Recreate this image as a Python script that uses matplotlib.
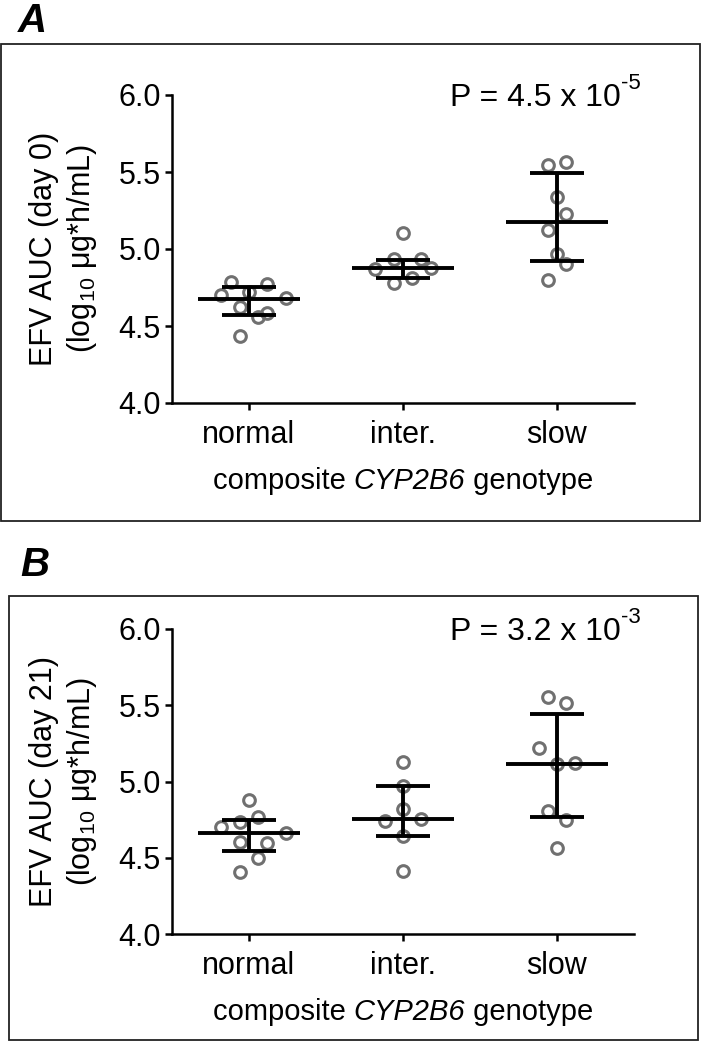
import matplotlib
matplotlib.use('Agg')
import matplotlib.pyplot as plt
from matplotlib.patches import Rectangle

plt.rcParams['font.family'] = ['Liberation Sans', 'DejaVu Sans']
plt.rcParams['mathtext.fontset'] = 'custom'
plt.rcParams['mathtext.rm'] = 'Liberation Sans'
plt.rcParams['mathtext.it'] = 'Liberation Sans:italic'
plt.rcParams['mathtext.bf'] = 'Liberation Sans:bold'

categories = ['normal', 'inter.', 'slow']
y_ticks = [4.0, 4.5, 5.0, 5.5, 6.0]
xlabel_parts = [('composite ', 'normal'), ('CYP2B6', 'italic'),
                (' genotype', 'normal')]

# Panel A (day 0)
a_normal = [4.788, 4.773, 4.701, 4.723, 4.680, 4.621, 4.556, 4.583, 4.435]
a_inter = [5.102, 4.933, 4.933, 4.868, 4.875, 4.781, 4.810]
a_slow = [5.545, 5.567, 5.336, 5.227, 5.123, 4.968, 4.903, 4.799]
a_center = [4.675, 4.879, 5.177]
a_lower = [4.573, 4.810, 4.922]
a_upper = [4.751, 4.929, 5.492]
a_slots = [[-2, 2, -3, 0, 4, -1, 1, 2, -1],
           [0, -1, 2, -3, 3, -1, 1],
           [-1, 1, 0, 1, -1, 0, 1, -1]]
a_pbase, a_pexp = 'P = 4.5 x 10', '-5'
a_ylabel = 'EFV AUC (day 0)\n(log$_{10}$ μg*h/mL)'

# Panel B (day 21)
b_normal = [4.879, 4.736, 4.765, 4.704, 4.660, 4.605, 4.595, 4.496, 4.409]
b_inter = [5.130, 4.970, 4.820, 4.741, 4.754, 4.645, 4.415]
b_slow = [5.556, 5.517, 5.222, 5.117, 5.123, 4.809, 4.748, 4.566]
b_center = [4.664, 4.754, 5.117]
b_lower = [4.544, 4.645, 4.765]
b_upper = [4.748, 4.970, 5.441]
b_slots = [[0, -1, 1, -3, 4, -1, 2, 1, -1],
           [0, 0, 0, -2, 2, 0, 0],
           [-1, 1, -2, 0, 2, -1, 1, 0]]
b_pbase, b_pexp = 'P = 3.2 x 10', '-3'
b_ylabel = 'EFV AUC (day 21)\n(log$_{10}$ μg*h/mL)'

W, H = 702, 1050
fig = plt.figure(figsize=(W / 100, H / 100), dpi=100)
renderer = fig.canvas.get_renderer()


def fx(x):
    return x / W


def fy(y):
    return 1 - y / H


def panel(top_px, bottom_px, groups, slots, center, lower, upper, pbase, pexp,
          ylabel):
    left_px, right_px = 172, 634
    ax = fig.add_axes([fx(left_px), fy(bottom_px), fx(right_px) - fx(left_px),
                       fy(top_px) - fy(bottom_px)])
    slot = 0.06
    for i, (vals, sl) in enumerate(zip(groups, slots)):
        xs = [i + s * slot for s in sl]
        ax.plot(xs, vals, 'o', ls='none', ms=8.4, mfc='none', mec='#707070',
                mew=2.2, zorder=2, clip_on=False)
    lw = 2.8
    for i in range(len(categories)):
        ax.plot([i - 0.33, i + 0.33], [center[i], center[i]], color='black',
                lw=lw, solid_capstyle='butt', zorder=3)
        ax.plot([i - 0.175, i + 0.175], [upper[i], upper[i]], color='black',
                lw=lw, solid_capstyle='butt', zorder=3)
        ax.plot([i - 0.175, i + 0.175], [lower[i], lower[i]], color='black',
                lw=lw, solid_capstyle='butt', zorder=3)
        ax.plot([i, i], [lower[i], upper[i]], color='black', lw=lw,
                solid_capstyle='butt', zorder=3)
    ax.set_xlim(-0.5, 2.5)
    ax.set_ylim(4.0, 6.0)
    ax.set_xticks(range(len(categories)))
    ax.set_xticklabels(categories)
    ax.set_yticks(y_ticks)
    ax.set_yticklabels([f'{t:.1f}' for t in y_ticks])
    for s in ['top', 'right']:
        ax.spines[s].set_visible(False)
    for s in ['left', 'bottom']:
        ax.spines[s].set_linewidth(1.8)
    ax.tick_params(direction='out', length=5, width=1.8, labelsize=22)
    ax.tick_params(axis='x', pad=7)
    ax.tick_params(axis='y', pad=3)
    ax.set_ylabel(ylabel, fontsize=22, labelpad=14, linespacing=1.25)

    # x label with italic gene name, assembled on one baseline
    base_y = bottom_px + 86
    pieces = [fig.text(0, fy(base_y), s, style=st, fontsize=21,
                       ha='left', va='baseline') for s, st in xlabel_parts]
    widths = [p.get_window_extent(renderer).width for p in pieces]
    x = (left_px + right_px) / 2 - sum(widths) / 2
    for p, w in zip(pieces, widths):
        p.set_x(fx(x))
        x += w

    t = fig.text(fx(621), fy(top_px + 3), pbase, ha='right', va='center',
                 fontsize=23)
    ax.annotate(pexp, xy=(1.0, 0.62), xycoords=t, ha='left', va='bottom',
                fontsize=16)
    return ax


panel(95, 403, [a_normal, a_inter, a_slow], a_slots, a_center, a_lower,
      a_upper, a_pbase, a_pexp, a_ylabel)
panel(629, 934, [b_normal, b_inter, b_slow], b_slots, b_center, b_lower,
      b_upper, b_pbase, b_pexp, b_ylabel)

fig.add_artist(Rectangle((fx(1), fy(521)), fx(700) - fx(1), fy(44) - fy(521),
                         transform=fig.transFigure, fill=False, lw=1.3,
                         ec='#222222'))
fig.add_artist(Rectangle((fx(9), fy(1040)), fx(698) - fx(9), fy(596) - fy(1040),
                         transform=fig.transFigure, fill=False, lw=1.3,
                         ec='#222222'))
fig.text(fx(18), fy(21), 'A', fontsize=29, fontweight='bold', style='italic',
         ha='left', va='center')
fig.text(fx(20), fy(565), 'B', fontsize=29, fontweight='bold', style='italic',
         ha='left', va='center')

fig.savefig('out.png', dpi=100)
